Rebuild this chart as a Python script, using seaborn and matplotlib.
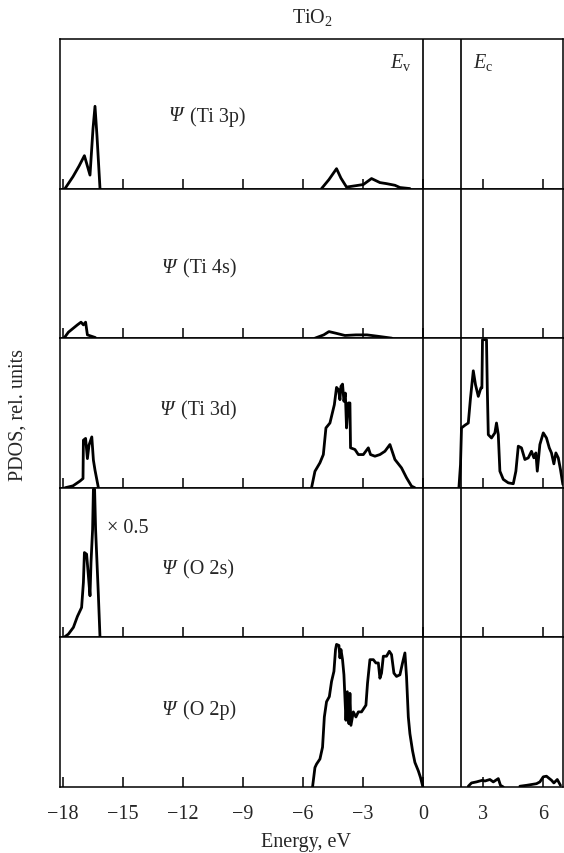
import numpy as np
import pandas as pd
import matplotlib
matplotlib.use('Agg')
import matplotlib.pyplot as plt
import seaborn as sns

ti3p_core_e = [-17.9, -17.5, -17.2, -16.93, -16.65, -16.5, -16.4, -16.3, -16.15]
ti3p_core_v = [0.0, 0.08, 0.15, 0.22, 0.09, 0.40, 0.55, 0.35, 0.0]
ti3p_val_e = [-5.07, -4.7, -4.32, -4.1, -3.82, -3.32, -2.98, -2.57, -2.15, -1.82, -1.4, -1.15, -0.65]
ti3p_val_v = [0.0, 0.06, 0.133, 0.07, 0.01, 0.02, 0.027, 0.067, 0.04, 0.033, 0.022, 0.007, 0.0]

ti4s_core_e = [-17.95, -17.73, -17.28, -17.1, -16.98, -16.87, -16.78, -16.38]
ti4s_core_v = [0.0, 0.04, 0.089, 0.107, 0.089, 0.107, 0.022, 0.004]
ti4s_val_e = [-5.4, -4.96, -4.7, -4.35, -3.9, -3.35, -2.8, -2.27, -1.55]
ti4s_val_v = [0.0, 0.022, 0.044, 0.033, 0.018, 0.022, 0.022, 0.013, 0.0]

ti3d_core_e = [-17.9, -17.5, -17.15, -17.0, -16.98, -16.87, -16.78, -16.7, -16.56, -16.48, -16.4, -16.23]
ti3d_core_v = [0.0, 0.013, 0.045, 0.062, 0.318, 0.33, 0.195, 0.285, 0.34, 0.185, 0.118, 0.0]
ti3d_val_e = [-5.57, -5.4, -5.15, -4.98, -4.85, -4.65, -4.43, -4.32, -4.22, -4.15, -4.1, -4.02,
              -3.95, -3.88, -3.82, -3.73, -3.65, -3.62, -3.4, -3.23, -2.98, -2.73, -2.62, -2.4,
              -2.15, -1.9, -1.65, -1.4, -1.07, -0.82, -0.57, -0.4]
ti3d_val_v = [0.0, 0.11, 0.167, 0.222, 0.4, 0.433, 0.555, 0.671, 0.655, 0.589, 0.678, 0.693,
              0.578, 0.633, 0.40, 0.567, 0.567, 0.267, 0.256, 0.222, 0.222, 0.267, 0.222, 0.211,
              0.222, 0.244, 0.289, 0.189, 0.133, 0.067, 0.011, 0.0]
ti3d_cond_e = [1.8, 1.88, 1.93, 2.1, 2.27, 2.38, 2.52, 2.63, 2.77, 2.9, 2.95, 2.98, 3.18, 3.22,
               3.27, 3.43, 3.6, 3.68, 3.77, 3.85, 4.02, 4.27, 4.52, 4.65, 4.77, 4.93, 5.1, 5.27,
               5.43, 5.55, 5.65, 5.72, 5.85, 6.02, 6.18, 6.32, 6.43, 6.55, 6.65, 6.77, 6.88, 7.0]
ti3d_cond_v = [0.0, 0.155, 0.4, 0.418, 0.433, 0.6, 0.782, 0.689, 0.611, 0.667, 0.667, 0.99, 0.99, 0.667,
               0.355, 0.333, 0.367, 0.433, 0.355, 0.111, 0.056, 0.033, 0.027, 0.111, 0.278, 0.267, 0.189, 0.2,
               0.244, 0.2, 0.233, 0.111, 0.289, 0.367, 0.333, 0.267, 0.233, 0.16, 0.233, 0.2, 0.122, 0.022]

o2s_core_e = [-17.95, -17.73, -17.48, -17.28, -17.07, -16.98, -16.93, -16.82, -16.73, -16.65,
              -16.6, -16.52, -16.48, -16.42, -16.37, -16.23, -16.15]
o2s_core_v = [0.0, 0.022, 0.067, 0.14, 0.2, 0.367, 0.567, 0.556, 0.411, 0.278,
              0.5, 0.722, 0.99, 0.99, 0.722, 0.278, 0.0]

o2p_val_e = [-5.52, -5.4, -5.32, -5.15, -5.02, -4.93, -4.82, -4.68, -4.57, -4.45, -4.37, -4.32,
             -4.2, -4.15, -4.1, -4.02, -3.95, -3.85, -3.78, -3.7, -3.65, -3.6, -3.48, -3.35,
             -3.23, -3.07, -2.85, -2.77, -2.65, -2.48, -2.35, -2.23, -2.15, -2.07, -1.98, -1.82,
             -1.68, -1.57, -1.45, -1.32, -1.15, -1.02, -0.9, -0.82, -0.73, -0.65, -0.52, -0.4,
             -0.23, -0.12, 0.0]
o2p_val_v = [0.0, 0.13, 0.153, 0.187, 0.266, 0.468, 0.57, 0.604, 0.705, 0.773, 0.919, 0.953,
             0.946, 0.863, 0.919, 0.851, 0.75, 0.446, 0.637, 0.423, 0.626, 0.412, 0.502, 0.468,
             0.502, 0.502, 0.547, 0.694, 0.851, 0.851, 0.829, 0.829, 0.727, 0.761, 0.874, 0.874,
             0.907, 0.885, 0.761, 0.739, 0.75, 0.829, 0.896, 0.739, 0.468, 0.356, 0.243, 0.164,
             0.108, 0.063, 0.0]
o2p_cond1_e = [2.27, 2.43, 2.68, 2.98, 3.1, 3.35, 3.52, 3.77, 3.88, 4.02]
o2p_cond1_v = [0.005, 0.027, 0.034, 0.045, 0.04, 0.05, 0.034, 0.056, 0.011, 0.0]
o2p_cond2_e = [4.85, 5.18, 5.68, 5.85, 6.02, 6.18, 6.43, 6.55, 6.72, 6.88]
o2p_cond2_v = [0.005, 0.011, 0.022, 0.034, 0.068, 0.072, 0.045, 0.027, 0.05, 0.011]

panel_labels = ['(Ti 3p)', '(Ti 4s)', '(Ti 3d)', '(O 2s)', '(O 2p)']
tick_values = [-18, -15, -12, -9, -6, -3, 0, 3, 6]
e_valence = 0.0
e_conduction = 1.88

panels = [
    [(ti3p_core_e, ti3p_core_v), (ti3p_val_e, ti3p_val_v)],
    [(ti4s_core_e, ti4s_core_v), (ti4s_val_e, ti4s_val_v)],
    [(ti3d_core_e, ti3d_core_v), (ti3d_val_e, ti3d_val_v), (ti3d_cond_e, ti3d_cond_v)],
    [(o2s_core_e, o2s_core_v)],
    [(o2p_val_e, o2p_val_v), (o2p_cond1_e, o2p_cond1_v), (o2p_cond2_e, o2p_cond2_v)],
]


def segments_frame(segs):
    rows = []
    for i, (e, v) in enumerate(segs):
        for x, y in zip(e, v):
            rows.append({'E': x, 'pdos': y, 'seg': i})
    return pd.DataFrame(rows)


sns.set_style('white')
plt.rcParams['font.family'] = ['Liberation Serif', 'DejaVu Serif']
plt.rcParams['mathtext.fontset'] = 'custom'
plt.rcParams['mathtext.rm'] = 'Liberation Serif'
plt.rcParams['mathtext.it'] = 'Liberation Serif:italic'
plt.rcParams['mathtext.bf'] = 'Liberation Serif:bold'
FS = 14.5

fig, axes = plt.subplots(5, 1, figsize=(5.64, 8.54), dpi=100, sharex=True)
fig.subplots_adjust(left=0.1064, right=0.998, top=0.9532, bottom=0.0773, hspace=0)

# left edge of the "Psi" and vertical centre of each panel label
label_pos = [(-12.7, 0.487), (-13.05, 0.473), (-13.15, 0.52), (-13.05, 0.46), (-13.05, 0.52)]

for k, ax in enumerate(axes):
    df = segments_frame(panels[k])
    sns.lineplot(data=df, x='E', y='pdos', units='seg', estimator=None, sort=False,
                 color='black', lw=2.0, ax=ax, legend=False)
    ax.axvline(e_valence, color='black', lw=1.2)
    ax.axvline(e_conduction, color='black', lw=1.2)
    ax.set_xlim(-18.15, 7.0)
    ax.set_ylim(0, 1)
    ax.set_yticks([])
    ax.set_xlabel('')
    ax.set_ylabel('')
    for s in ax.spines.values():
        s.set_visible(True)
        s.set_color('black')
        s.set_linewidth(1.1)
    ax.set_xticks(tick_values)
    ax.tick_params(axis='x', direction='in', length=7.5, width=1.1, color='black',
                   bottom=True, top=False, pad=12, labelsize=FS)
    if k < 4:
        ax.tick_params(axis='x', labelbottom=False)
    lx, ly = label_pos[k]
    ax.text(lx, ly, 'Ψ', fontsize=FS, ha='left', va='center', style='italic')
    ax.text(lx + 1.05, ly, panel_labels[k], fontsize=FS, ha='left', va='center')

axes[0].text(-1.1, 0.847, r'$E_{\rm v}$', fontsize=FS, ha='center', va='center')
axes[0].text(3.0, 0.847, r'$E_{\rm c}$', fontsize=FS, ha='center', va='center')
axes[3].text(-14.75, 0.733, '× 0.5', fontsize=FS, ha='center', va='center')

fig.text(312 / 564, 1 - 17 / 854, r'TiO$_2$', fontsize=FS, ha='center', va='center')
fig.text(18 / 564, 0.5146, 'PDOS, rel. units', fontsize=FS, ha='center', va='center', rotation=90)
fig.text(306 / 564, 1 - 843 / 854, 'Energy, eV', fontsize=FS, ha='center', va='center')

fig.savefig('out.png', dpi=100)
